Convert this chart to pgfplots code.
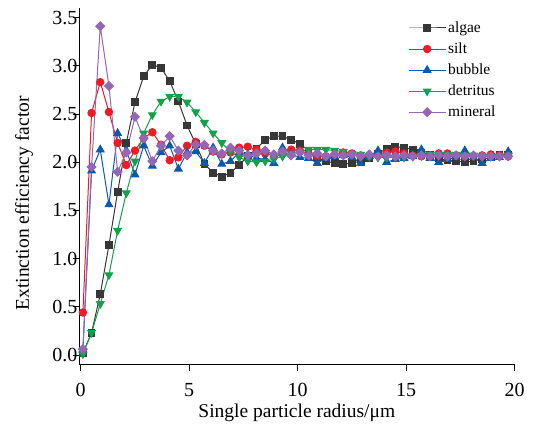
\documentclass[border=0pt]{standalone}
\usepackage{fontspec}
\setmainfont{Liberation Serif}
\usepackage{pgfplots}
\usepackage{pgfplotstable}
\pgfplotsset{compat=1.18}
\definecolor{calgae}{RGB}{55,55,55}
\definecolor{csilt}{RGB}{237,28,36}
\definecolor{cbubble}{RGB}{14,88,172}
\definecolor{cdet}{RGB}{22,160,75}
\definecolor{cmin}{RGB}{150,102,182}
\pgfplotstableread{
x algae silt bubble detritus mineral
0.1 0.02 0.44 0.05 0.01 0.06
0.5 0.23 2.51 1.91 0.23 1.95
0.9 0.63 2.83 2.13 0.53 3.41
1.3 1.14 2.52 1.56 0.83 2.79
1.7 1.69 2.20 2.30 1.29 1.90
2.1 2.20 1.97 2.12 1.68 2.10
2.5 2.62 2.12 1.87 2.01 2.47
2.9 2.89 2.25 2.17 2.30 2.25
3.3 3.01 2.31 1.96 2.49 2.01
3.7 2.98 2.18 2.10 2.63 2.17
4.1 2.84 2.02 2.17 2.68 2.27
4.5 2.63 2.05 1.93 2.68 2.12
4.9 2.38 2.17 2.10 2.62 2.07
5.3 2.19 2.21 2.11 2.52 2.18
5.7 1.98 2.17 1.99 2.41 2.18
6.1 1.89 2.11 2.15 2.30 2.12
6.5 1.85 2.08 1.98 2.20 2.09
6.9 1.89 2.10 2.01 2.11 2.15
7.3 1.97 2.15 2.10 2.05 2.12
7.7 2.06 2.16 2.08 2.01 2.07
8.1 2.14 2.13 2.04 2.00 2.09
8.5 2.23 2.09 2.03 2.01 2.12
8.9 2.27 2.07 1.99 2.03 2.08
9.3 2.27 2.09 2.15 2.06 2.11
9.7 2.23 2.13 2.08 2.09 2.07
10.1 2.19 2.12 2.05 2.11 2.10
10.5 2.12 2.09 2.04 2.13 2.07
10.9 2.05 2.06 1.99 2.13 2.09
11.3 2.01 2.06 2.04 2.13 2.06
11.7 1.99 2.08 2.06 2.12 2.08
12.1 1.98 2.10 2.07 2.11 2.07
12.5 1.99 2.09 2.05 2.09 2.08
12.9 2.01 2.07 1.99 2.08 2.06
13.3 2.04 2.06 2.06 2.06 2.08
13.7 2.09 2.07 2.12 2.05 2.06
14.1 2.14 2.10 2.00 2.05 2.07
14.5 2.16 2.11 2.03 2.05 2.06
14.9 2.15 2.09 2.04 2.05 2.07
15.3 2.13 2.07 2.06 2.06 2.06
15.7 2.10 2.06 2.13 2.07 2.07
16.1 2.07 2.07 2.04 2.08 2.06
16.5 2.04 2.09 2.00 2.08 2.07
16.9 2.02 2.09 2.03 2.08 2.06
17.3 2.01 2.07 2.05 2.08 2.07
17.7 2.00 2.06 2.12 2.07 2.06
18.1 2.01 2.06 2.05 2.07 2.07
18.5 2.03 2.07 1.99 2.06 2.06
18.9 2.05 2.08 2.04 2.06 2.06
19.3 2.07 2.07 2.05 2.06 2.06
19.7 2.08 2.06 2.11 2.07 2.06
}\data
\begin{document}
\begin{tikzpicture}
\path[use as bounding box] (-79pt,-60.4pt) rectangle (463pt,364.6pt);
\begin{axis}[
  at={(0,0)}, anchor=south west,
  scale only axis, width=435.7pt, height=356.7pt,
  xmin=-0.08, xmax=20, ymin=-0.1, ymax=3.6,
  axis lines=left, axis line style={-, line width=0.8pt},
  tick align=outside, major tick length=6pt,
  tick style={line width=0.8pt, black},
  xtick={0,5,10,15,20}, ytick={0,0.5,...,3.5},
  /pgf/number format/assume math mode=true,
  ticklabel style={font=\fontsize{20}{22}\selectfont},
  yticklabel style={/pgf/number format/fixed, /pgf/number format/fixed zerofill, /pgf/number format/precision=1, xshift=8pt},
  xticklabel style={yshift=-9pt},
  xlabel={Single particle radius/μm},
  ylabel={Extinction efficiency factor},
  label style={font=\fontsize{19.5}{22}\selectfont},
  xlabel style={at={(axis description cs:0.5,0)}, anchor=base, yshift=-53pt},
  ylabel style={at={(axis description cs:-0.147,0.452)}, anchor=north, inner sep=0pt},
  legend style={at={(rel axis cs:0.755,0.967)}, anchor=north west, draw=none, fill=none,
    font=\fontsize{15.5}{18}\selectfont, row sep=4.8pt, inner sep=0pt},
  legend cell align=left,
  legend image code/.code={\draw[mark repeat=2,mark phase=2] plot coordinates {(0pt,0pt) (18.5pt,0pt) (37pt,0pt)};},
  every axis plot/.append style={line width=1pt},
  clip=false,
]
\addplot[calgae, mark=square*, mark size=3.4pt, mark options={solid}] table[x=x,y=algae]{\data};
\addlegendentry{algae}
\addplot[csilt, mark=*, mark size=3.7pt] table[x=x,y=silt]{\data};
\addlegendentry{silt}
\addplot[cbubble, mark=triangle*, mark size=4.3pt] table[x=x,y=bubble]{\data};
\addlegendentry{bubble}
\addplot[cdet, mark=triangle*, mark size=4.3pt, mark options={rotate=180}] table[x=x,y=detritus]{\data};
\addlegendentry{detritus}
\addplot[cmin, mark=square*, mark size=3.1pt, mark options={rotate=45}] table[x=x,y=mineral]{\data};
\addlegendentry{mineral}
\end{axis}
\end{tikzpicture}
\end{document}
